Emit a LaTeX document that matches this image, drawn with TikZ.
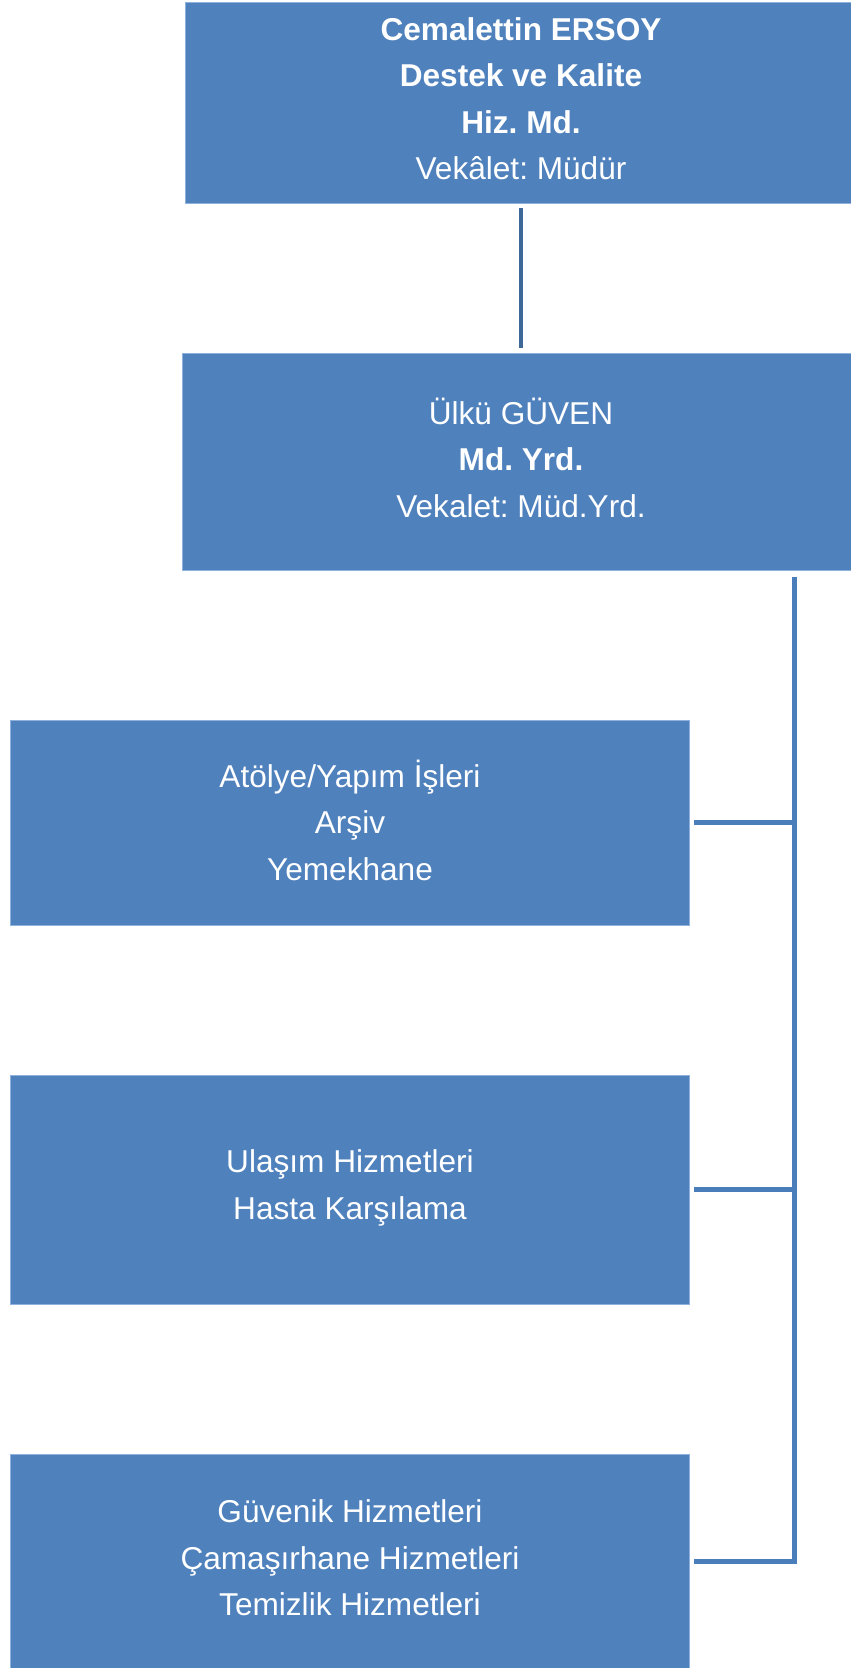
\documentclass[tikz,border=0pt]{standalone}
\usepackage{fontspec}
\setmainfont{Liberation Sans}
\frenchspacing
\definecolor{boxblue}{HTML}{4F81BD}
\definecolor{edgeblue}{HTML}{8EB1DE}
\definecolor{linkblue}{HTML}{4A7EBB}
\definecolor{toplink}{HTML}{3D6898}
\begin{document}
\begin{tikzpicture}[x=1pt,y=-1pt,
  orgbox/.style={rectangle, fill=boxblue, draw=edgeblue, line width=0.8pt,
    inner sep=0pt, outer sep=5pt},
  boxtext/.style={text=white, align=center, inner sep=0pt,
    font=\fontsize{31.6}{46.5}\selectfont\frenchspacing},
  link/.style={draw=linkblue, line width=4.5pt},
  toplinkstyle/.style={draw=toplink, line width=4.5pt}]
\useasboundingbox (0,0) rectangle (851,1668);
\fill[white] (0,0) rectangle (851,1668);
\clip (0,0) rectangle (851,1668);

\node[orgbox, minimum width=672pt, minimum height=201pt] (top) at (521,102.5) {};
\node[orgbox, minimum width=678pt, minimum height=217pt] (yrd) at (521,461.5) {};
\node[orgbox, minimum width=678.7pt, minimum height=205.5pt] (b1) at (350,822.8) {};
\node[orgbox, minimum width=678.7pt, minimum height=228.6pt] (b2) at (350,1189.7) {};
\node[orgbox, minimum width=678.7pt, minimum height=214pt] (b3) at (350,1561) {};

\node[boxtext] (topT) at ([yshift=4pt]top.center)
  {\textbf{Cemalettin ERSOY}\\\textbf{Destek ve Kalite}\\\textbf{Hiz. Md.}\\Vekâlet: Müdür};
\node[boxtext] (yrdT) at ([yshift=4pt]yrd.center)
  {Ülkü GÜVEN\\\textbf{Md. Yrd.}\\Vekalet: Müd.Yrd.};
\node[boxtext] (b1T) at ([yshift=2.5pt]b1.center)
  {Atölye/Yapım İşleri\\Arşiv\\Yemekhane};
\node[boxtext] (b2T) at ([yshift=2pt]b2.center)
  {Ulaşım Hizmetleri\\Hasta Karşılama};
\node[boxtext] (b3T) at ([yshift=3pt]b3.center)
  {Güvenik Hizmetleri\\Çamaşırhane Hizmetleri\\Temizlik Hizmetleri};

\coordinate (spineTop) at (794.6,576.6);
\coordinate (j1) at (794.6,822.3);
\coordinate (j2) at (794.6,1189.3);
\coordinate (j3) at (794.6,1561.6);

\draw[toplinkstyle] (top.south) -- (yrd.north);
\draw[link] (spineTop) -- (j3);
\draw[link] (b1.east |- j1) -- (j1);
\draw[link] (b2.east |- j2) -- (j2);
\draw[link, line join=miter] (b3.east |- j3) -- (j3) -- ([yshift=0.1pt]j3);
\end{tikzpicture}
\end{document}
